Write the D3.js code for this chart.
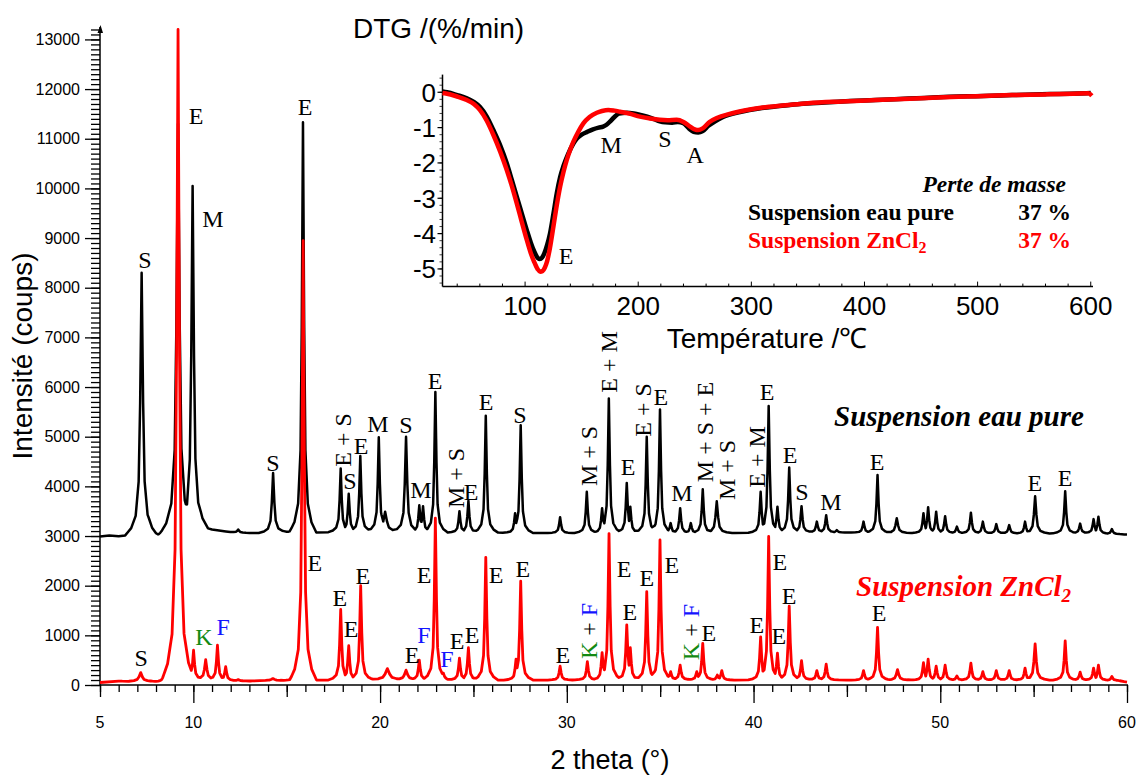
<!DOCTYPE html>
<html><head><meta charset="utf-8">
<script src="https://cdn.jsdelivr.net/npm/d3@7"></script>
<style>body{margin:0;background:#fff}svg{display:block}</style>
</head><body>
<svg id="c" width="1140" height="778"></svg>
<script>
// ---------------- DATA ----------------
const xTickLabels = [5, 10, 20, 30, 40, 50, 60];
const yTickLabels = [0,1000,2000,3000,4000,5000,6000,7000,8000,9000,10000,11000,12000,13000];
const insetXTickLabels = [100, 200, 300, 400, 500, 600];
const insetYTickLabels = [0, -1, -2, -3, -4, -5];

// XRD peaks: [2theta, counts, fwhm(optional)]
const eauPurePeaks = [
 [7.23,8300,0.16],[8.30,3100,0.15],[9.18,11300,0.18],[9.96,10050,0.15],[12.40,3130],
 [14.27,4270,0.14],[15.50,3400],[15.87,11330,0.13],[17.89,4360],[18.32,3850],[18.94,4610],
 [19.93,4990],[20.27,3490,0.2],[21.39,5000,0.14],[22.10,3620],[22.30,3600],[22.96,5900],
 [24.25,3500],[24.73,3710],[25.66,5420],[27.23,3460],[27.53,5230],[29.64,3380],[31.07,3890],
 [31.89,3560],[32.25,5770],[33.21,4070],[33.40,3590],[34.28,5000],[34.99,5550],[35.56,3260],
 [36.07,3560],[36.64,3260],[37.28,3940],[38.03,3700,0.15],[40.38,3890],[40.81,5620],[41.28,3590],
 [41.91,4380],[42.57,3600],[43.39,3290],[43.89,3420],[44.46,3120],[45.89,3290],[46.64,4230],
 [47.67,3360,0.15],[49.10,3460],[49.35,3580],[49.78,3490],[50.26,3400],[50.89,3190],[51.64,3470],
 [52.28,3290],[53.00,3240],[53.69,3220],[54.54,3290],[55.08,3800,0.14],[56.69,3900],[57.49,3250],
 [58.21,3340],[58.47,3390],[59.19,3140]
];
const eauPureBackground = [
 [5,2990],[5.5,3010],[6,2995],[6.5,3020],[7,3040],[7.6,3060],[8,3010],[8.6,3060],[9.6,3150],
 [10.4,3200],[11,3130],[12,3080],[13,3060],[14,3060],[15,3080],[16.6,3070],[17.5,3080],[20,3100],
 [23,3070],[26,3070],[28,3060],[30,3060],[33,3070],[36,3060],[39,3060],[42,3080],[45,3070],
 [48,3060],[50,3060],[55,3050],[58,3060],[60,3030]
];
const zncl2Peaks = [
 [7.18,250,0.18],[8.36,130],[9.18,13200,0.16],[10.01,700,0.12],[10.66,510,0.14],[11.29,800,0.12],
 [11.73,370],[12.40,110],[14.26,130,0.2],[15.50,440],[15.88,8950,0.13],[17.89,1520],[18.32,790],
 [18.96,2000],[20.39,330,0.25],[21.39,300,0.18],[22.10,500],[22.96,3360],[23.39,240],[24.25,540],
 [24.73,750],[25.66,2570],[27.28,520],[27.53,2090],[29.64,380],[31.10,470],[31.89,650],[32.26,3050],
 [33.21,1210],[33.40,750],[34.28,1880],[34.99,2920],[35.56,270],[36.07,400],[36.96,270],[37.28,840],
 [38.06,200],[38.30,290],[40.38,970],[40.81,2990],[41.28,640],[41.91,1590],[42.57,490],[43.39,290],
 [43.89,420],[45.89,290],[46.64,1160],[47.71,310,0.15],[49.10,450],[49.35,520],[49.78,380],[50.26,400],
 [50.89,180],[51.64,440],[52.28,270],[53.00,290],[53.69,290],[54.54,340],[55.08,830,0.14],[56.69,890],
 [57.49,260],[58.21,340],[58.47,400],[59.19,170]
];
const zncl2Background = [
 [5,50],[6,80],[6.5,70],[7,80],[8,70],[8.8,110],[9.6,120],[10.4,120],[11,110],[12,90],[13,80],
 [14,90],[16.6,100],[17.5,100],[20,110],[22,110],[25,100],[28,100],[30,100],[33,110],[36,110],
 [39,100],[42,110],[45,100],[48,100],[50,100],[55,100],[58,100],[59.5,90],[60,60]
];

// DTG curves: [temperature °C, %/min]
const dtgEauPure = [
 [27,0.02],[31,0.0],[40,-0.08],[48.5,-0.17],[55,-0.28],[60,-0.41],[66,-0.68],[72,-1.07],[78,-1.5],
 [83.8,-2.01],[88,-2.45],[92.7,-2.96],[97,-3.42],[101.5,-3.9],[105,-4.25],[108,-4.5],[111.5,-4.7],
 [113,-4.72],[115,-4.68],[117,-4.56],[119.5,-4.32],[122,-4.0],[125,-3.45],[128,-2.86],[131,-2.4],
 [134,-2.08],[138,-1.75],[142.7,-1.45],[146,-1.3],[150,-1.2],[155,-1.12],[160,-1.05],[165,-1.0],
 [169,-0.97],[172,-0.92],[175,-0.83],[179,-0.7],[183,-0.6],[190,-0.58],[196,-0.6],[202,-0.64],
 [208,-0.69],[214,-0.76],[219,-0.82],[224,-0.85],[230,-0.86],[235,-0.84],[240,-0.88],[245,-1.03],
 [249,-1.12],[253,-1.14],[257,-1.1],[262,-0.95],[268,-0.82],[275,-0.7],[290,-0.56],[308,-0.45],
 [325,-0.39],[343,-0.33],[365,-0.29],[387,-0.25],[410,-0.22],[431,-0.19],[453,-0.16],[475,-0.13],
 [498,-0.11],[520,-0.09],[542,-0.07],[564,-0.05],[582,-0.04],[600,-0.02]
];
const dtgZnCl2 = [
 [27,-0.02],[29,-0.03],[40,-0.12],[48.5,-0.22],[55,-0.34],[60,-0.5],[66,-0.8],[72,-1.21],[78,-1.68],
 [83.8,-2.2],[88,-2.62],[92.7,-3.15],[97,-3.66],[101.5,-4.18],[105,-4.55],[108,-4.8],[111,-5.0],
 [113.3,-5.08],[115.5,-5.06],[117.5,-4.96],[119.5,-4.78],[122,-4.4],[125,-3.81],[128,-3.2],[131,-2.67],
 [134,-2.25],[136.8,-1.92],[140,-1.62],[142.7,-1.4],[147,-1.12],[151.5,-0.88],[157,-0.7],[163.4,-0.58],
 [168,-0.53],[173.6,-0.5],[179,-0.52],[184,-0.55],[192,-0.6],[201.6,-0.69],[210,-0.74],[219,-0.78],
 [226,-0.79],[234,-0.78],[240,-0.84],[245.8,-0.97],[250,-1.05],[253,-1.07],[257,-1.02],[263,-0.84],
 [270,-0.72],[280,-0.62],[295,-0.51],[310,-0.43],[330,-0.37],[350,-0.31],[380,-0.26],[410,-0.22],
 [440,-0.18],[470,-0.14],[500,-0.11],[530,-0.08],[560,-0.06],[585,-0.04],[598,-0.03],[601,-0.1]
];

// Peak annotations: [text, 2theta, counts, rotated, colour key]
const eauPureLabels = [
 ["S",7.41,8559],["E",10.14,11459],["M",11.05,9385],["E",15.98,11640],["S",14.26,4471],
 ["E + S",18.01,4934,1],["S",18.39,4108],["E",18.98,4813],["M",19.89,5256],["S",21.39,5236],
 ["M",22.19,3927],["E",22.94,6122],["M + S",24.06,4169,1],["E",24.87,3887],["E",25.67,5699],
 ["S",27.49,5438],["M + S",31.19,4612,1],["E + M",32.26,6505,1],["E",33.28,4390],["E + S",34.08,5538,1],
 ["E",35.04,5800],["M",36.16,3867],["M + S + E",37.40,5095,1],["M + S",38.58,4330,1],["E + M",40.18,4592,1],
 ["E",40.72,5901],["E",41.95,4632],["S",42.59,3887],["M",44.15,3685],["E",46.61,4491],
 ["E",55.07,4068],["E",56.68,4169]
];
const zncl2Labels = [
 ["S",7.20,544],["K",10.57,967,0,"K"],["F",11.59,1168,0,"F"],["E",16.51,2457],["E",17.85,1752],
 ["E",18.44,1128],["E",19.08,2195],["E",21.71,604],["F",22.35,1007,0,"F"],["E",22.35,2215],
 ["F",23.58,524,0,"F"],["E",24.12,886],["E",24.92,1007],["E",26.21,2215],["E",27.65,2336],
 ["E",29.79,604],["K + F",31.19,1088,1,"KF"],["E",33.06,2336],["E",33.38,1470],["E",34.29,2155],
 ["E",35.63,2417],["K + F",36.65,1067,1,"KF"],["E",37.61,1047],["E",40.18,1208],["E",41.36,987],
 ["E",41.41,2477],["E",41.90,1792],["E",46.72,1450]
];
// DTG annotations: [text, temperature, %/min]
const dtgLabels = [["M",176,-1.49],["S",223.7,-1.32],["A",250.3,-1.77],["E",136.2,-4.63]];
const massLoss = [["Suspension eau pure","37 %"],["Suspension ZnCl","37 %"]];

// ---------------- DRAWING ----------------
const SANS = "'Liberation Sans', Arial, Helvetica, sans-serif";
const SERIF = "'Liberation Serif', 'Times New Roman', Times, serif";
const RED = "#ff0000", GREEN = "#138a13", BLUE = "#1414ff";
const svg = d3.select("#c");
svg.append("rect").attr("width",1140).attr("height",778).attr("fill","#fff");

const x = d3.scaleLinear().domain([5,60]).range([100,1127]);
const y = d3.scaleLinear().domain([0,13230]).range([685,28]);

// --- main axes
function tickAxis(axis, tr, size){
  const g = svg.append("g").attr("transform",tr).call(axis.tickSize(size).tickFormat(""));
  g.select(".domain").remove();
  g.selectAll(".tick line").attr("stroke","#000").attr("stroke-width",1.3);
  return g;
}
tickAxis(d3.axisLeft(y).tickValues(d3.range(0,13201,100)), "translate(100,0)", 9);
const gy = svg.append("g").attr("transform","translate(100,0)")
  .call(d3.axisLeft(y).tickValues(yTickLabels).tickSize(15).tickPadding(5).tickFormat(d3.format("d")));
gy.select(".domain").remove();
gy.selectAll(".tick line").attr("stroke","#000").attr("stroke-width",1.3);
gy.selectAll(".tick text").attr("font-family",SANS).attr("font-size",16).attr("fill","#000");
svg.append("line").attr("x1",100).attr("x2",100).attr("y1",y(0)).attr("y2",27)
  .attr("stroke","#000").attr("stroke-width",1.5);
svg.append("path").attr("d","M97.5,33 L100.5,25 L103,33 Z").attr("fill","#000");

tickAxis(d3.axisBottom(x).tickValues(d3.range(5,61,1)), `translate(0,${y(0)})`, 7);
tickAxis(d3.axisBottom(x).tickValues(d3.range(5,60,10)), `translate(0,${y(0)})`, 12);
tickAxis(d3.axisBottom(x).tickValues(d3.range(10,61,10)), `translate(0,${y(0)})`, 18);
svg.append("line").attr("x1",100).attr("x2",1128).attr("y1",y(0)).attr("y2",y(0))
  .attr("stroke","#000").attr("stroke-width",1.5);
svg.append("g").selectAll("text").data(xTickLabels).join("text")
  .attr("x",d=>x(d)).attr("y",722).attr("dy","0.35em").attr("text-anchor","middle")
  .attr("font-family",SANS).attr("font-size",16).text(d=>d);

svg.append("text").attr("x",610).attr("y",769).attr("text-anchor","middle")
  .attr("font-family",SANS).attr("font-size",27).text("2 theta (°)");
svg.append("text").attr("transform","translate(22,356) rotate(-90)").attr("text-anchor","middle")
  .attr("dominant-baseline","central").attr("font-family",SANS).attr("font-size",28).text("Intensité (coups)");

// --- XRD profiles built from peak lists
const shapeNodes = [[0,1],[0.5,0.5],[1,0.2],[2,0.07],[3.5,0.025],[5.5,0]];
function shapeFrac(u){
  u = Math.abs(u);
  for (let i=1;i<shapeNodes.length;i++){
    const [a,fa]=shapeNodes[i-1],[b,fb]=shapeNodes[i];
    if (u<=b) return fa+(fb-fa)*(u-a)/(b-a);
  }
  return 0;
}
function bgAt(bg,t){
  for (let i=1;i<bg.length;i++){
    if (t<=bg[i][0]){const [a,va]=bg[i-1],[b,vb]=bg[i];return va+(vb-va)*(t-a)/(b-a);}
  }
  return bg[bg.length-1][1];
}
function profile(peaks,bg,defW){
  const xs = new Set(bg.map(d=>d[0]));
  peaks.forEach(p=>{const w=p[2]||defW; shapeNodes.forEach(([k])=>{xs.add(p[0]+k*w);xs.add(p[0]-k*w);});});
  return [...xs].filter(v=>v>=5&&v<=60).sort((a,b)=>a-b).map(t=>{
    const b=bgAt(bg,t); let v=b;
    peaks.forEach(p=>{const w=p[2]||defW; const f=shapeFrac((t-p[0])/w); if(f>0) v=Math.max(v,b+(p[1]-b)*f);});
    return [t,v];
  });
}
const line = d3.line().x(d=>x(d[0])).y(d=>y(d[1]));
svg.append("path").attr("d",line(profile(eauPurePeaks,eauPureBackground,0.12)))
  .attr("fill","none").attr("stroke","#000").attr("stroke-width",2.5).attr("stroke-linejoin","round");
svg.append("path").attr("d",line(profile(zncl2Peaks,zncl2Background,0.12)))
  .attr("fill","none").attr("stroke",RED).attr("stroke-width",2.8).attr("stroke-linejoin","round");

// --- peak labels
function drawLabels(list){
  list.forEach(([txt,t,c,rot,key])=>{
    const px=x(t), py=y(c);
    const el = svg.append("text").attr("font-family",SERIF).attr("font-size",24)
      .attr("text-anchor","middle").attr("dominant-baseline","central")
      .attr("transform", rot?`translate(${px},${py}) rotate(-90)`:`translate(${px},${py})`);
    if (key==="KF"){
      el.append("tspan").attr("fill",GREEN).text("K");
      el.append("tspan").attr("fill","#000").text(" + ");
      el.append("tspan").attr("fill",BLUE).text("F");
    } else {
      el.attr("fill", key==="K"?GREEN: key==="F"?BLUE:"#000").text(txt);
    }
  });
}
drawLabels(eauPureLabels);
drawLabels(zncl2Labels);

svg.append("text").attr("x",x(44.31)).attr("y",y(5216)).attr("font-family",SERIF).attr("font-size",29)
  .attr("font-weight","bold").attr("font-style","italic").text("Suspension eau pure");
const sz = svg.append("text").attr("x",x(45.49)).attr("y",y(1792)).attr("font-family",SERIF).attr("font-size",29)
  .attr("font-weight","bold").attr("font-style","italic").attr("fill",RED);
sz.append("tspan").text("Suspension ZnCl");
sz.append("tspan").attr("font-size",19).attr("dy",6).text("2");

// ---------------- INSET (DTG) ----------------
const xi = d3.scaleLinear().domain([27,602]).range([442.5,1093]);
const yi = d3.scaleLinear().domain([-5.5,0.5]).range([286.6,74.6]);

const ti = d3.range(40,601,20);
svg.append("g").selectAll("line").data(ti).join("line")
  .attr("x1",d=>xi(d)).attr("x2",d=>xi(d)).attr("y1",yi(-5.5)).attr("y2",d=>yi(-5.5)-(d%100===0?5:3))
  .attr("stroke","#000").attr("stroke-width",1);
svg.append("g").selectAll("line").data(d3.range(-5.4,0.45,0.2)).join("line")
  .attr("x1",xi(27)).attr("x2",xi(27)-3).attr("y1",d=>yi(d)).attr("y2",d=>yi(d))
  .attr("stroke","#444").attr("stroke-width",1);
svg.append("g").selectAll("line").data(insetYTickLabels).join("line")
  .attr("x1",xi(27)).attr("x2",xi(27)-5).attr("y1",d=>yi(d)).attr("y2",d=>yi(d))
  .attr("stroke","#000").attr("stroke-width",1.2);
svg.append("line").attr("x1",xi(27)).attr("x2",xi(27)).attr("y1",yi(0.5)).attr("y2",yi(-5.5))
  .attr("stroke","#000").attr("stroke-width",1.5);
svg.append("line").attr("x1",xi(27)).attr("x2",xi(602)).attr("y1",yi(-5.5)).attr("y2",yi(-5.5))
  .attr("stroke","#000").attr("stroke-width",1.5);
svg.append("g").selectAll("text").data(insetYTickLabels).join("text")
  .attr("x",436).attr("y",d=>yi(d)).attr("dy","0.36em").attr("text-anchor","end")
  .attr("font-family",SANS).attr("font-size",26).text(d=>d);
svg.append("g").selectAll("text").data(insetXTickLabels).join("text")
  .attr("x",d=>xi(d)).attr("y",306).attr("dy","0.36em").attr("text-anchor","middle")
  .attr("font-family",SANS).attr("font-size",26).text(d=>d);

svg.append("text").attr("x",353).attr("y",38).attr("font-family",SANS).attr("font-size",28).text("DTG /(%/min)");
svg.append("text").attr("x",767).attr("y",348).attr("text-anchor","middle").attr("font-family",SANS)
  .attr("font-size",28).text("Température /℃");

const li = d3.line().x(d=>xi(d[0])).y(d=>yi(d[1])).curve(d3.curveMonotoneX);
svg.append("path").attr("d",li(dtgEauPure)).attr("fill","none").attr("stroke","#000")
  .attr("stroke-width",4.5).attr("stroke-linejoin","round");
svg.append("path").attr("d",li(dtgZnCl2)).attr("fill","none").attr("stroke",RED)
  .attr("stroke-width",4.5).attr("stroke-linejoin","round");

dtgLabels.forEach(([txt,t,v])=>{
  svg.append("text").attr("x",xi(t)).attr("y",yi(v)).attr("text-anchor","middle")
    .attr("dominant-baseline","central").attr("font-family",SERIF).attr("font-size",24).text(txt);
});

// mass-loss legend
svg.append("text").attr("x",1066).attr("y",192).attr("text-anchor","end").attr("font-family",SERIF)
  .attr("font-size",23.5).attr("font-weight","bold").attr("font-style","italic").text("Perte de masse");
massLoss.forEach(([name,val],i)=>{
  const col = i===0?"#000":RED, by = 220 + i*27.5;
  const t = svg.append("text").attr("x",748).attr("y",by).attr("font-family",SERIF)
    .attr("font-size",23.5).attr("font-weight","bold").attr("fill",col);
  t.append("tspan").text(name);
  if (i===1) t.append("tspan").attr("font-size",16).attr("dy",5).text("2");
  svg.append("text").attr("x",1071).attr("y",by).attr("text-anchor","end").attr("font-family",SERIF)
    .attr("font-size",23.5).attr("font-weight","bold").attr("fill",col).text(val);
});
</script>
</body></html>
